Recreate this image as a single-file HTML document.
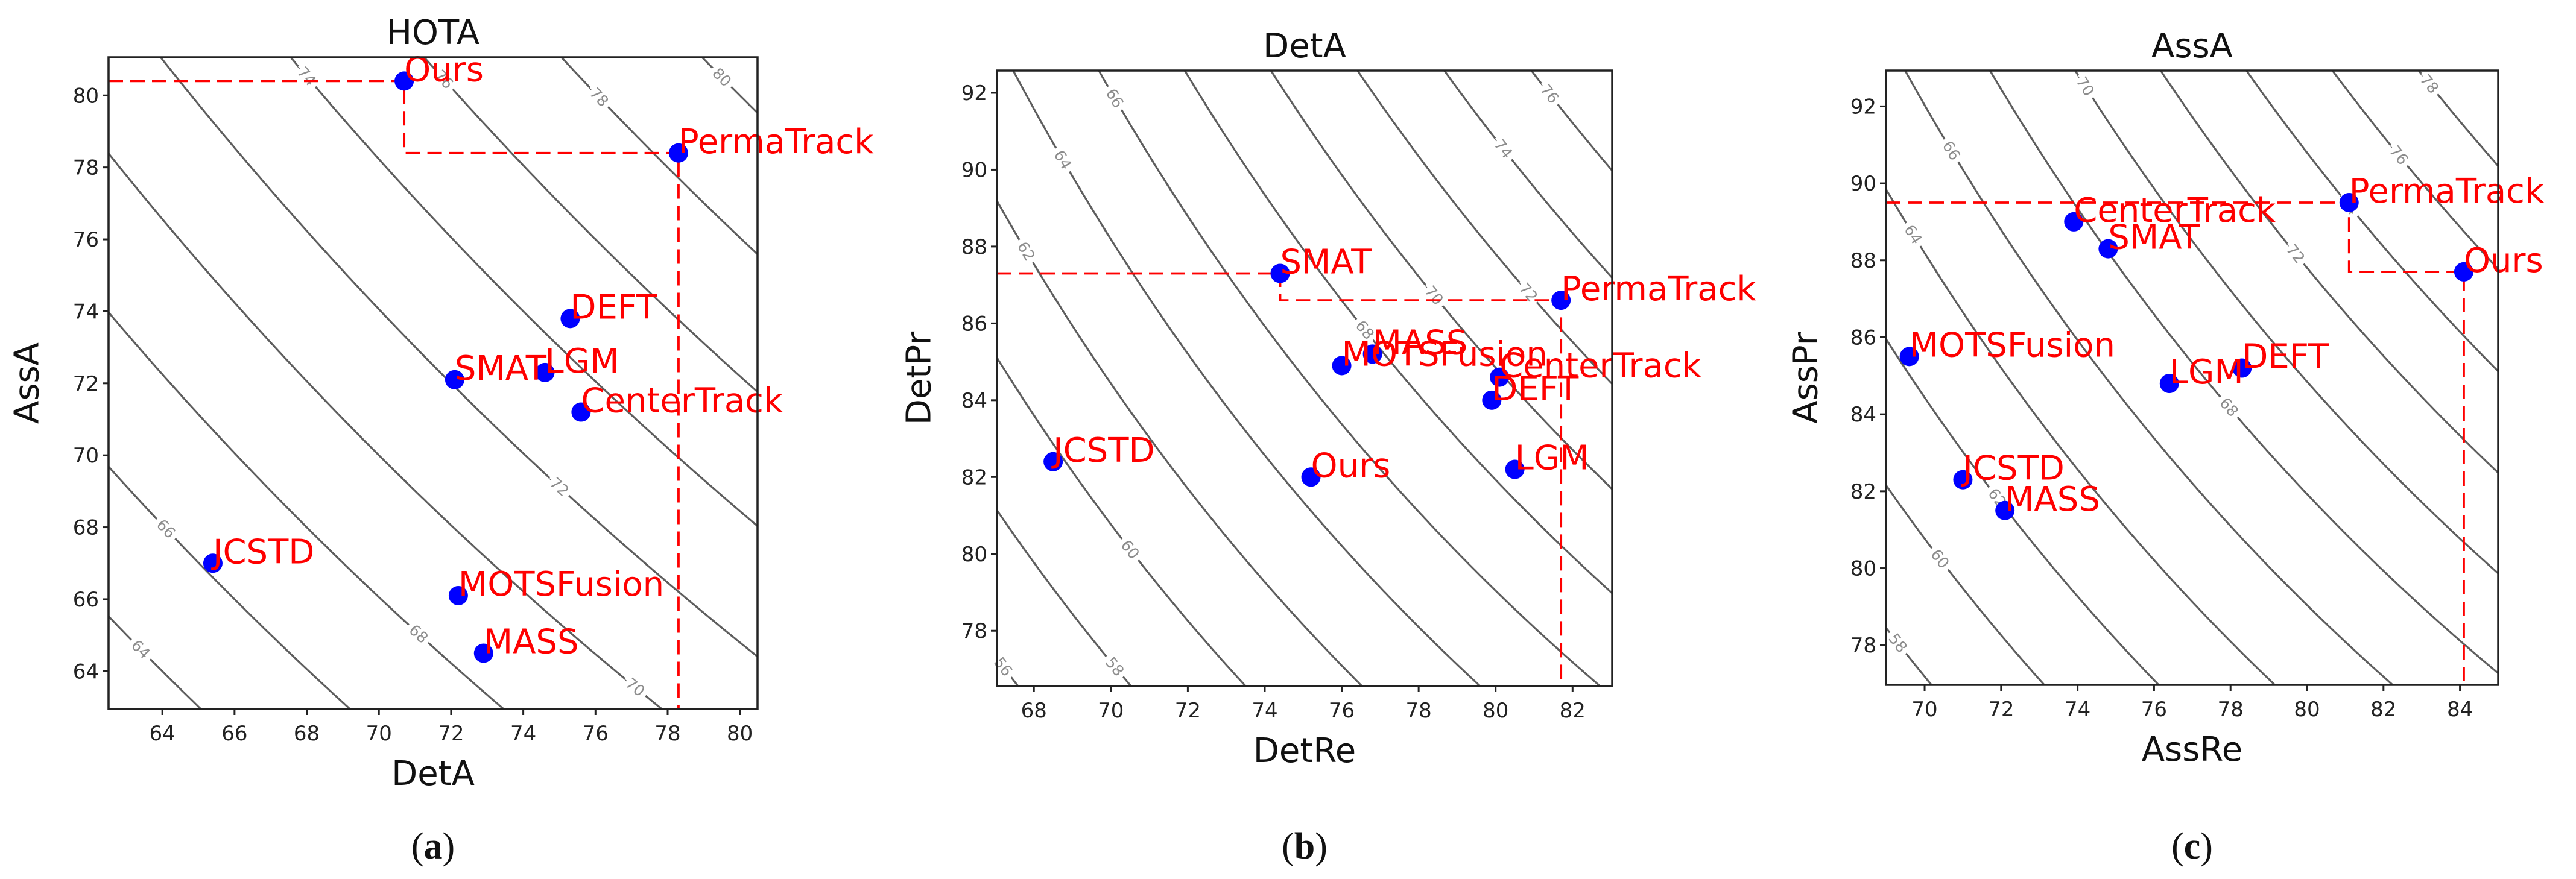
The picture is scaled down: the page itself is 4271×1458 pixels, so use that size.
<!DOCTYPE html>
<html><head><meta charset="utf-8">
<style>
html,body{margin:0;padding:0;background:#fff;width:4271px;height:1458px;overflow:hidden;}
svg{display:block;}
text{font-family:"DejaVu Sans","Liberation Sans",sans-serif;}
</style></head>
<body>
<svg id="fig" width="4271" height="1458" viewBox="0 0 4271 1458" xmlns="http://www.w3.org/2000/svg"></svg>
<script>
// ---- Panel (a) HOTA data ----
const hotaMethods = ["Ours","PermaTrack","DEFT","SMAT","LGM","CenterTrack","JCSTD","MOTSFusion","MASS"];
const hotaDetA = [70.7,78.3,75.3,72.1,74.6,75.6,65.4,72.2,72.9];
const hotaAssA = [80.4,78.4,73.8,72.1,72.3,71.2,67.0,66.1,64.5];
const hotaFrontier = ["Ours","PermaTrack"];
const hotaLevels = [64,66,68,70,72,74,76,78,80];
const hotaXTicks = [64,66,68,70,72,74,76,78,80];
const hotaYTicks = [64,66,68,70,72,74,76,78,80];
// ---- Panel (b) DetA data ----
const detMethods = ["SMAT","PermaTrack","MASS","MOTSFusion","CenterTrack","DEFT","JCSTD","Ours","LGM"];
const detRe = [74.4,81.7,76.8,76.0,80.1,79.9,68.5,75.2,80.5];
const detPr = [87.3,86.6,85.2,84.9,84.6,84.0,82.4,82.0,82.2];
const detFrontier = ["SMAT","PermaTrack"];
const detLevels = [56,58,60,62,64,66,68,70,72,74,76];
const detXTicks = [68,70,72,74,76,78,80,82];
const detYTicks = [78,80,82,84,86,88,90,92];
// ---- Panel (c) AssA data ----
const assMethods = ["PermaTrack","Ours","CenterTrack","SMAT","MOTSFusion","LGM","DEFT","JCSTD","MASS"];
const assRe = [81.1,84.1,73.9,74.8,69.6,76.4,78.3,71.0,72.1];
const assPr = [89.5,87.7,89.0,88.3,85.5,84.8,85.2,82.3,81.5];
const assFrontier = ["PermaTrack","Ours"];
const assLevels = [58,60,62,64,66,68,70,72,74,76,78];
const assXTicks = [70,72,74,76,78,80,82,84];
const assYTicks = [78,80,82,84,86,88,90,92];

const NS = "http://www.w3.org/2000/svg";
const fig = document.getElementById('fig');
function mk(tag, attrs, parent){
  const e = document.createElementNS(NS, tag);
  for (const k in attrs) e.setAttribute(k, attrs[k]);
  (parent||fig).appendChild(e);
  return e;
}

const panels = [
  {key:'hota', title:'HOTA', xlabel:'DetA', ylabel:'AssA', cap:'a',
   box:[180,95,1256,1176], xlim:[62.51,80.49], ylim:[62.95,81.06],
   xt:hotaXTicks, yt:hotaYTicks, names:hotaMethods, xs:hotaDetA, ys:hotaAssA, front:hotaFrontier,
   levels:hotaLevels, kind:'geo', ylabX:45,
   labX:[63.4,64.1,71.1,77.1,75.0,68.0,71.8,76.1,79.5]},
  {key:'det', title:'DetA', xlabel:'DetRe', ylabel:'DetPr', cap:'b',
   box:[1653,117,2673,1138], xlim:[67.04,83.03], ylim:[76.56,92.58],
   xt:detXTicks, yt:detYTicks, names:detMethods, xs:detRe, ys:detPr, front:detFrontier,
   levels:detLevels, kind:'jac', ylabX:1524,
   labX:[67.2,70.1,70.5,67.8,68.75,70.1,76.6,78.4,80.85,80.2,81.4]},
  {key:'ass', title:'AssA', xlabel:'AssRe', ylabel:'AssPr', cap:'c',
   box:[3127,117,4142,1136], xlim:[68.99,85.0], ylim:[76.97,92.93],
   xt:assXTicks, yt:assYTicks, names:assMethods, xs:assRe, ys:assPr, front:assFrontier,
   levels:assLevels, kind:'jac', ylabX:2994,
   labX:[69.3,70.4,71.9,69.7,70.7,77.96,74.2,79.7,81.1,82.4,83.2]}
];

panels.forEach((p, pi) => {
  const [L,T,R,B] = p.box;
  const sx = v => L + (v - p.xlim[0]) / (p.xlim[1] - p.xlim[0]) * (R - L);
  const sy = v => B - (v - p.ylim[0]) / (p.ylim[1] - p.ylim[0]) * (B - T);
  const curveY = (lev, x) => p.kind === 'geo' ? lev*lev/x : 100 / (100/lev + 1 - 100/x);
  const g = mk('g', {});
  
  
  const cid = 'clip' + pi;
  const cp = mk('clipPath', {id:cid}, g);
  mk('rect', {x:L, y:T, width:R-L, height:B-T}, cp);

  const cg = mk('g', {'clip-path':'url(#'+cid+')'}, g);
  
  
  const yLo = p.ylim[0] - 1.5, yHi = p.ylim[1] + 1.5;
  p.levels.forEach((lev, li) => {
    let d = '';
    const n = 400;
    for (let i = 0; i <= n; i++) {
      const x = p.xlim[0] + (p.xlim[1]-p.xlim[0]) * i / n;
      const y = curveY(lev, x);
      if (!isFinite(y) || y < yLo || y > yHi) continue;
      d += (d ? 'L' : 'M') + sx(x).toFixed(1) + ' ' + sy(y).toFixed(1);
    }
    if (!d) return;
    const path = mk('path', {d:d, fill:'none', stroke:'#5e5e5e', 'stroke-width':3.2}, cg);
    
    
    const lx = p.labX[li];
    const ly = curveY(lev, lx);
    const px = sx(lx), py = sy(ly);
    const px2 = sx(lx+0.05), py2 = sy(curveY(lev, lx+0.05));
    const ang = Math.atan2(py2-py, px2-px) * 180 / Math.PI;
    if (px > L && px < R && py > T && py < B) {
      const t = mk('text', {x:px, y:py, 'font-size':25, fill:'#8c8c8c', 'text-anchor':'middle',
        'dominant-baseline':'central', stroke:'#fff', 'stroke-width':16, 'paint-order':'stroke',
        transform:'rotate(' + ang.toFixed(1) + ' ' + px.toFixed(1) + ' ' + py.toFixed(1) + ')'}, g);
      t.textContent = lev;
      
      
    }
  });

  const fi = p.front.map(n => p.names.indexOf(n));
  let fd = 'M' + L + ' ' + sy(p.ys[fi[0]]);
  fi.forEach((k, j) => {
    fd += 'L' + sx(p.xs[k]) + ' ' + sy(p.ys[k]);
    if (j < fi.length - 1) fd += 'L' + sx(p.xs[k]) + ' ' + sy(p.ys[fi[j+1]]);
  });
  fd += 'L' + sx(p.xs[fi[fi.length-1]]) + ' ' + B;
  const fp = mk('path', {d:fd, fill:'none', stroke:'#ff0000', 'stroke-width':3.8, 'stroke-dasharray':'24 12'}, g);
  
  

  p.names.forEach((n, i) => {
    const c = mk('circle', {cx:sx(p.xs[i]), cy:sy(p.ys[i]), r:16, fill:'#0000ff'}, g);
    
    
  });
  p.names.forEach((n, i) => {
    const t = mk('text', {x:sx(p.xs[i]), y:sy(p.ys[i]), 'font-size':56, fill:'#ff0000'}, g);
    t.textContent = n;
    
    
  });

  const fr = mk('rect', {x:L, y:T, width:R-L, height:B-T, fill:'none', stroke:'#222', 'stroke-width':3.5}, g);
  
  

  p.xt.forEach(v => {
    const x = sx(v);
    mk('line', {x1:x, y1:B, x2:x, y2:B+10, stroke:'#222', 'stroke-width':3}, g);
    const t = mk('text', {x:x, y:B+52, 'font-size':34, fill:'#222', 'text-anchor':'middle'}, g);
    t.textContent = v;
    
    
  });
  p.yt.forEach(v => {
    const y = sy(v);
    mk('line', {x1:L-10, y1:y, x2:L, y2:y, stroke:'#222', 'stroke-width':3}, g);
    const t = mk('text', {x:L-16, y:y+12, 'font-size':34, fill:'#222', 'text-anchor':'end'}, g);
    t.textContent = v;
    
    
  });

  const cx = (L+R)/2;
  const tt = mk('text', {x:cx, y:T-22, 'font-size':56, fill:'#111', 'text-anchor':'middle'}, g);
  tt.textContent = p.title;
  
  
  const xl = mk('text', {x:cx, y:B+126, 'font-size':56, fill:'#111', 'text-anchor':'middle'}, g);
  xl.textContent = p.xlabel;
  
  
  const cy = (T+B)/2;
  const yl = mk('text', {x:p.ylabX, y:cy, 'font-size':56, fill:'#111', 'text-anchor':'middle',
    'dominant-baseline':'central', transform:'rotate(-90 ' + p.ylabX + ' ' + cy + ')'}, g);
  yl.textContent = p.ylabel;
  
  

  const sc = mk('text', {x:cx, y:1424, 'font-size':62, fill:'#111', 'text-anchor':'middle',
    style:'font-family:"Liberation Serif",serif'}, g);
  sc.innerHTML = '(<tspan font-weight="bold">' + p.cap + '</tspan>)';
  
  
});
</script>
</body></html>
